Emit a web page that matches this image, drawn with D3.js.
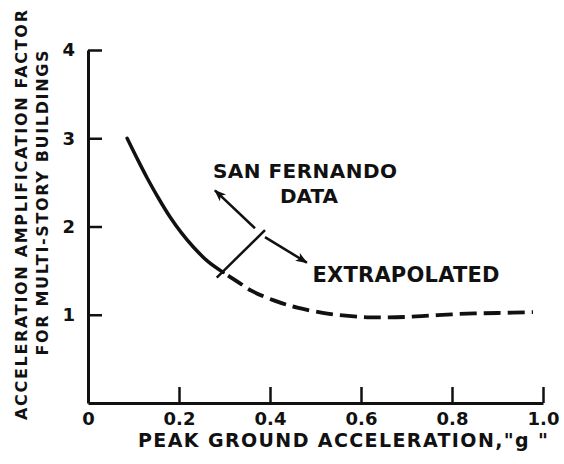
<!DOCTYPE html>
<html>
<head>
<meta charset="utf-8">
<script src="https://cdn.jsdelivr.net/npm/d3@7"></script>
<style>
  html, body { margin: 0; padding: 0; background: #fff; }
  svg { display: block; }
  text { font-family: "DejaVu Sans", "Liberation Sans", sans-serif; font-weight: bold; fill: #111; }
</style>
</head>
<body>
<svg id="chart" width="564" height="464"></svg>
<script>
// Amplification factor vs. peak ground acceleration (g)
const measured = [
  [0.086, 3.00], [0.108, 2.77], [0.130, 2.55], [0.155, 2.32], [0.180, 2.11],
  [0.205, 1.93], [0.231, 1.77], [0.262, 1.61], [0.297, 1.48]
];
const extrapolated = [
  [0.297, 1.48], [0.330, 1.37], [0.360, 1.27], [0.410, 1.16], [0.460, 1.08],
  [0.530, 1.01], [0.600, 0.975], [0.650, 0.970], [0.700, 0.975], [0.750, 0.990],
  [0.800, 1.005], [0.850, 1.015], [0.900, 1.020], [0.978, 1.030]
];
// Divider between the data range and the extrapolated range
const divider = [[0.283, 1.42], [0.389, 1.96]];
const arrowData = [[0.367, 1.98], [0.279, 2.41]];
const arrowExtrap = [[0.389, 1.88], [0.481, 1.59]];

const xTicks = [0, 0.2, 0.4, 0.6, 0.8, 1.0];
const xTickLabels = ["0", "0.2", "0.4", "0.6", "0.8", "1.0"];
const yTicks = [1, 2, 3, 4];
const yTickLabels = ["1", "2", "3", "4"];

const svg = d3.select("#chart");
const x = d3.scaleLinear().domain([0, 1]).range([88, 543]);
const y = d3.scaleLinear().domain([0, 4]).range([403, 50]);

const ink = "#111";

// Arrowhead marker
svg.append("defs").append("marker")
  .attr("id", "head")
  .attr("viewBox", "0 0 12 10")
  .attr("refX", 11).attr("refY", 5)
  .attr("markerWidth", 13).attr("markerHeight", 10)
  .attr("markerUnits", "userSpaceOnUse")
  .attr("orient", "auto")
  .append("path")
  .attr("d", "M0,0.5 L12,5 L0,9.5 L3,5 Z")
  .attr("fill", ink);

// Y axis: ticks point inward
const yAxis = d3.axisLeft(y)
  .tickValues(yTicks)
  .tickFormat((d, i) => yTickLabels[i])
  .tickSizeInner(-14)
  .tickSizeOuter(0)
  .tickPadding(13);
const gy = svg.append("g").attr("transform", `translate(${x(0)},0)`).call(yAxis);
gy.select(".domain").attr("stroke", ink).attr("stroke-width", 3);
gy.selectAll(".tick line").attr("stroke", ink).attr("stroke-width", 2.5);
gy.selectAll(".tick text").style("font-size", "18px").attr("fill", ink);

// X axis: ticks point upward
const xAxis = d3.axisBottom(x)
  .tickValues(xTicks)
  .tickFormat((d, i) => xTickLabels[i])
  .tickSizeInner(-16)
  .tickSizeOuter(0)
  .tickPadding(9);
const gx = svg.append("g").attr("transform", `translate(0,${y(0)})`).call(xAxis);
gx.select(".domain").attr("stroke", ink).attr("stroke-width", 3);
gx.selectAll(".tick line").attr("stroke", ink).attr("stroke-width", 2.5)
  .attr("display", d => d === 0 ? "none" : null);
gx.selectAll(".tick text").style("font-size", "18px").attr("fill", ink);

const line = d3.line().x(d => x(d[0])).y(d => y(d[1])).curve(d3.curveCatmullRom);

svg.append("path").datum(measured)
  .attr("d", line)
  .attr("fill", "none").attr("stroke", ink)
  .attr("stroke-width", 3.5).attr("stroke-linecap", "round");

svg.append("path").datum(extrapolated)
  .attr("d", line)
  .attr("fill", "none").attr("stroke", ink)
  .attr("stroke-width", 3.8).attr("stroke-dasharray", "17,7")
  .attr("stroke-dashoffset", -6);

const straight = d3.line().x(d => x(d[0])).y(d => y(d[1]));
svg.append("path").datum(divider)
  .attr("d", straight).attr("stroke", ink).attr("stroke-width", 2.5).attr("fill", "none");
[arrowData, arrowExtrap].forEach(a => {
  svg.append("path").datum(a)
    .attr("d", straight).attr("stroke", ink).attr("stroke-width", 2.5)
    .attr("fill", "none").attr("marker-end", "url(#head)");
});

// Annotations
function label(txt, cx, base, size, len) {
  return svg.append("text")
    .attr("x", cx).attr("y", base)
    .attr("text-anchor", "middle")
    .attr("textLength", len).attr("lengthAdjust", "spacing")
    .style("font-size", size + "px")
    .text(txt);
}
label("SAN FERNANDO", 305, 178, 20, 184);
label("DATA", 309, 203, 20, 58);
label("EXTRAPOLATED", 406, 282, 21, 187);
label("PEAK GROUND ACCELERATION,\"g \"", 343, 447, 19, 410);

// Rotated y-axis title
const yTitle = [
  { txt: "ACCELERATION AMPLIFICATION FACTOR", cx: 215, base: 27, len: 410 },
  { txt: "FOR MULTI-STORY BUILDINGS", cx: 203, base: 48, len: 305 }
];
yTitle.forEach(t => {
  svg.append("text")
    .attr("transform", `translate(${t.base},${t.cx}) rotate(-90)`)
    .attr("text-anchor", "middle")
    .attr("textLength", t.len).attr("lengthAdjust", "spacing")
    .style("font-size", "16px")
    .text(t.txt);
});
</script>
</body>
</html>
